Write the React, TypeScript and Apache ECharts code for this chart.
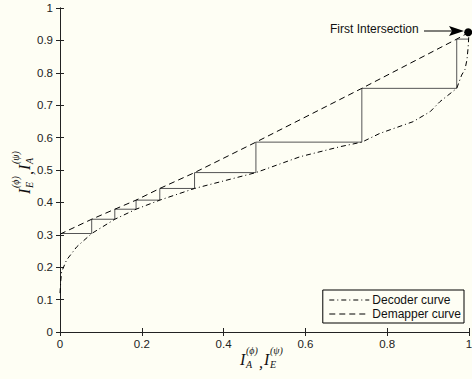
import React, { useEffect, useRef } from "react";
import * as echarts from "echarts";

// Decoder curve (dash-dot)
const decoderX = [0, 0.002, 0.004, 0.016, 0.041, 0.0775, 0.134, 0.186, 0.244, 0.329, 0.479, 0.587, 0.685, 0.738, 0.782, 0.863, 0.905, 0.929, 0.97, 0.982, 0.99, 0.995, 0.998, 1.0];
const decoderY = [0.12, 0.16, 0.186, 0.222, 0.263, 0.304, 0.348, 0.379, 0.407, 0.443, 0.492, 0.541, 0.572, 0.586, 0.613, 0.649, 0.68, 0.711, 0.752, 0.793, 0.81, 0.84, 0.88, 0.925];

// Demapper curve (dashed)
const demapperX = [0, 0.0775, 0.134, 0.186, 0.244, 0.329, 0.479, 0.738, 0.97, 1.0];
const demapperY = [0.302, 0.348, 0.379, 0.407, 0.443, 0.492, 0.586, 0.752, 0.904, 0.925];

// Trajectory staircase
const stepX = [0, 0.0775, 0.0775, 0.134, 0.134, 0.186, 0.186, 0.244, 0.244, 0.329, 0.329, 0.479, 0.479, 0.738, 0.738, 0.97, 0.97, 0.999];
const stepY = [0.304, 0.304, 0.348, 0.348, 0.379, 0.379, 0.407, 0.407, 0.443, 0.443, 0.492, 0.492, 0.586, 0.586, 0.752, 0.752, 0.904, 0.904];

// First intersection point
const intersection = [0.998, 0.925];

const xTicks = { min: 0, max: 1, interval: 0.2 };
const yTicks = { min: 0, max: 1, interval: 0.1 };

const zip = (xs: number[], ys: number[]) => xs.map((x, i) => [x, ys[i]]);

const serif = "'Liberation Serif', 'DejaVu Serif', serif";

function labelParts(mainA: string, subA: string, supA: string, subB: string, supB: string) {
  const main = { fontFamily: serif, fontStyle: "italic", fontSize: 16, fill: "#111" };
  const small = { fontFamily: serif, fontStyle: "italic", fontSize: 10, fill: "#111" };
  return [
    { type: "text", x: 0, y: 0, style: { ...main, text: mainA, verticalAlign: "middle" } },
    { type: "text", x: 6, y: -9, style: { ...small, text: supA, verticalAlign: "middle" } },
    { type: "text", x: 6, y: 5, style: { ...small, text: subA, verticalAlign: "middle" } },
    { type: "text", x: 19, y: 3, style: { ...main, text: ",", verticalAlign: "middle" } },
    { type: "text", x: 24, y: 0, style: { ...main, text: mainA, verticalAlign: "middle" } },
    { type: "text", x: 30, y: -9, style: { ...small, text: supB, verticalAlign: "middle" } },
    { type: "text", x: 30, y: 5, style: { ...small, text: subB, verticalAlign: "middle" } },
  ];
}

export default function App() {
  const ref = useRef<HTMLDivElement>(null);
  useEffect(() => {
    if (!ref.current) return;
    const chart = echarts.init(ref.current, undefined, { renderer: "svg" });
    const axisColor = "#222";
    const sans = "'Liberation Sans', Arial, sans-serif";
    chart.setOption({
      animation: false,
      backgroundColor: "#fefef4",
      grid: { left: 60, right: 3, top: 8, bottom: 47, containLabel: false, outerBoundsMode: "none", show: false },
      xAxis: [
        {
          type: "value", ...xTicks, position: "bottom",
          axisLine: { show: true, lineStyle: { color: axisColor, width: 1 } },
          axisTick: { show: true, inside: true, length: 4, lineStyle: { color: axisColor } },
          axisLabel: { color: "#222", fontSize: 11.5, fontFamily: sans, margin: 6 },
          splitLine: { show: false },
        },
        {
          type: "value", ...xTicks, position: "top",
          axisLine: { show: true, lineStyle: { color: axisColor, width: 1 } },
          axisTick: { show: true, inside: true, length: 4, lineStyle: { color: axisColor } },
          axisLabel: { show: false },
          splitLine: { show: false },
        },
      ],
      yAxis: [
        {
          type: "value", ...yTicks, position: "left",
          axisLine: { show: true, lineStyle: { color: axisColor, width: 1 } },
          axisTick: { show: true, inside: true, length: 4, lineStyle: { color: axisColor } },
          axisLabel: { color: "#222", fontSize: 11.5, fontFamily: sans, margin: 7 },
          splitLine: { show: false },
        },
        {
          type: "value", ...yTicks, position: "right",
          axisLine: { show: true, lineStyle: { color: axisColor, width: 1 } },
          axisTick: { show: true, inside: true, length: 4, lineStyle: { color: axisColor } },
          axisLabel: { show: false },
          splitLine: { show: false },
        },
      ],
      legend: {
        data: ["Decoder curve", "Demapper curve"],
        orient: "vertical",
        right: 8,
        bottom: 56,
        borderColor: "#000",
        borderWidth: 1,
        borderRadius: 0,
        padding: [4, 3, 3, 6],
        itemGap: 2,
        itemWidth: 40,
        itemHeight: 10,
        itemStyle: { opacity: 0, color: "transparent", borderWidth: 0 },
        lineStyle: { width: 1, opacity: 1 },
        textStyle: { color: "#111", fontSize: 12, fontFamily: sans, padding: [0, 0, 0, -2] },
      },
      series: [
        {
          name: "Trajectory", type: "line", data: zip(stepX, stepY), symbol: "none",
          lineStyle: { color: "#555", width: 1 },
        },
        {
          name: "Decoder curve", type: "line", data: zip(decoderX, decoderY), symbol: "none",
          itemStyle: { color: "#000" },
          lineStyle: { color: "#000", width: 1, type: [5, 3, 1, 3] },
        },
        {
          name: "Demapper curve", type: "line", data: zip(demapperX, demapperY), symbol: "none",
          itemStyle: { color: "#000" },
          lineStyle: { color: "#000", width: 1, type: [6, 4] },
        },
        {
          name: "First Intersection", type: "scatter", data: [intersection], symbol: "circle",
          symbolSize: 8, itemStyle: { color: "#000", opacity: 1 }, clip: false,
        },
      ],
      graphic: [
        {
          type: "text", left: 330, top: 23,
          style: { text: "First Intersection", fontSize: 12, fontFamily: sans, fill: "#111" },
        },
        { type: "line", shape: { x1: 424, y1: 31, x2: 452, y2: 31 }, style: { stroke: "#000", lineWidth: 1 } },
        { type: "polygon", shape: { points: [[449, 26], [464, 31], [449, 36], [452, 31]] }, style: { fill: "#000" } },
        { type: "group", x: 240, y: 359, children: labelParts("I", "A", "(ϕ)", "E", "(ψ)") },
        { type: "group", x: 24, y: 194, rotation: Math.PI / 2, children: labelParts("I", "E", "(ϕ)", "A", "(ψ)") },
      ],
    });
    return () => chart.dispose();
  }, []);
  return <div ref={ref} style={{ position: "fixed", left: 0, top: 0, width: 472, height: 379 }} />;
}
